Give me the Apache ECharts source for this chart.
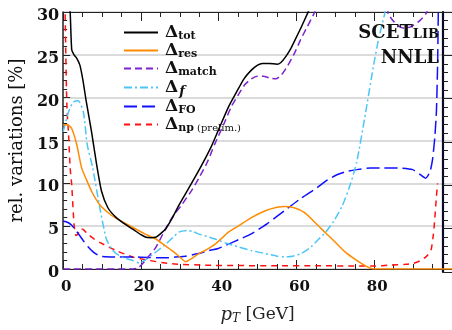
<!DOCTYPE html>
<html>
<head>
<meta charset="utf-8">
<script src="https://cdn.jsdelivr.net/npm/echarts@6/dist/echarts.min.js"></script>
<style>
  html, body { margin: 0; padding: 0; background: #fff; }
  #chart { width: 452px; height: 330px; }
</style>
</head>
<body>
<div id="chart"></div>
<script>
// pT [GeV] vs relative variation [%]
const deltaTot = [[1.4, 32], [1.8, 30], [2.2, 25.6], [2.8, 25.0], [3.5, 24.6], [4.3, 23.8], [5.1, 22.0], [5.85, 19.8],
  [7.3, 16.0], [8.6, 12.2], [9.85, 9.1], [11.5, 7.15], [13.65, 6.0], [16, 5.2], [17.9, 4.65], [20, 4.0], [21.3, 3.7],
  [22.5, 3.65], [23.8, 3.7], [25, 4.1], [26.4, 4.7], [28, 5.9], [29.7, 7.4], [32, 9.2], [35, 11.6], [38, 14.2],
  [40, 16.3], [42.5, 18.9], [44.4, 20.5], [46.5, 22.2], [48.6, 23.3], [50, 23.8], [51.2, 24.0], [53, 24.0],
  [55, 23.9], [56, 24.1], [57.1, 24.7], [58.5, 25.7], [59.7, 26.8], [61.3, 28.3], [62.9, 29.9], [64, 31]];

const deltaRes = [[0, 16.8], [1, 16.85], [2.2, 16.4], [3.5, 14.5], [4.75, 11.8], [6, 10.4], [7.5, 8.9], [9.4, 7.5],
  [11.5, 6.6], [13.65, 5.9], [17.9, 4.85], [21, 4.1], [23.8, 3.5], [26, 2.8], [28, 2.15], [30, 1.4], [31.5, 0.85],
  [33, 1.2], [34.8, 1.77], [37, 2.3], [39.1, 2.9], [42.5, 4.3], [45, 5.0], [48.4, 6.0], [52, 6.8], [55, 7.2],
  [57, 7.3], [59.4, 7.15], [62, 6.6], [65.3, 5.2], [67.5, 4.2], [69.6, 3.3], [72.5, 2.0], [75.5, 1.0], [78, 0.3],
  [79.8, 0], [100, 0]];

const deltaMatch = [[0, 0], [18, 0], [19.2, 0.1], [20.4, 0.6], [22, 1.5], [23.8, 2.5], [26, 4.4], [28, 6.0],
  [30.5, 7.5], [33.1, 9.2], [35, 10.7], [37, 12.4], [39, 14.6], [41.2, 16.8], [43.3, 19.0], [45, 20.3],
  [46.7, 21.5], [48.4, 22.2], [50, 22.5], [51.5, 22.5], [53, 22.3], [54.7, 22.2], [56.2, 22.7], [57.7, 23.7],
  [59.5, 25.2], [61.1, 26.8], [62.8, 28.3], [64.5, 29.8], [66, 31.2], [83, 31.2], [83.6, 29.8], [85, 28.9],
  [86.5, 28.3], [87.8, 28.1], [89.5, 28.3], [91.5, 28.9], [93.3, 29.8], [94.5, 31]];

const deltaF = [[0, 16.0], [1.35, 18.3], [2.6, 19.5], [3.9, 19.65], [5.2, 18.3], [6.2, 14.5], [7.6, 11.8],
  [9.4, 7.2], [11.1, 3.5], [12.5, 2.3], [13.65, 1.8], [15.5, 1.3], [17.9, 1.0], [19.6, 0.7], [21, 1.0],
  [22.1, 1.4], [24.2, 2.1], [26.4, 2.9], [28.5, 3.8], [29.7, 4.3], [31.9, 4.5], [33.5, 4.35], [34.8, 4.1],
  [37, 3.8], [39.1, 3.5], [42, 3.0], [45, 2.6], [48.4, 2.15], [52, 1.8], [55, 1.5], [56.9, 1.4], [59, 1.5],
  [61.1, 1.77], [63.3, 2.4], [65.3, 3.3], [67.5, 4.3], [69.6, 5.6], [71.8, 7.4], [73.8, 9.8], [75.5, 12.5],
  [77.5, 17.5], [79.8, 23.7], [81.2, 27], [82.7, 29.8], [83.5, 31.5]];

const deltaFO = [[0, 5.6], [1.35, 5.4], [2.2, 5.1], [3.05, 4.65], [4.1, 4.0], [5.2, 3.3], [6.4, 2.6], [7.7, 2.0],
  [9, 1.6], [10.2, 1.46], [14, 1.4], [17.9, 1.4], [22, 1.35], [26.4, 1.3], [28.9, 1.4], [31.5, 1.5], [34.8, 1.8],
  [37, 2.1], [39.9, 2.4], [42.5, 2.9], [45.5, 3.5], [48.4, 4.1], [52.5, 5.3], [56.9, 6.8], [61, 8.2], [65.3, 9.5],
  [68, 10.4], [70.4, 11.0], [73, 11.4], [75.5, 11.6], [79, 11.8], [82.3, 11.8], [86, 11.8], [89.9, 11.6],
  [91.6, 11.1], [93.2, 10.6], [94.3, 11.3], [95, 12.8], [95.6, 15.5], [96.0, 18.5], [96.3, 24], [96.5, 31]];

const deltaNp = [[0.45, 31], [0.5, 30], [0.8, 22], [1.0, 18.5], [1.35, 16.0], [1.8, 11.8], [2.2, 9.8], [2.8, 5.2],
  [3.3, 3.9], [3.8, 4.1], [4.5, 4.7], [5.2, 4.6], [6.5, 4.0], [8, 3.5], [9.4, 3.1], [13.65, 2.15], [17.9, 1.4],
  [22.1, 1.0], [28, 0.6], [39.1, 0.42], [45, 0.4], [55, 0.38], [65, 0.38], [75, 0.35], [80, 0.35], [84, 0.45],
  [88, 0.55], [90, 0.65], [92, 1.0], [93.5, 1.5], [94.6, 2.2], [95.2, 4], [95.6, 6], [96.0, 8.5], [96.3, 10]];

const seriesNames = ['tot', 'res', 'match', 'f', 'FO', 'np'];
const seriesData = [deltaTot, deltaRes, deltaMatch, deltaF, deltaFO, deltaNp];
const seriesColors = ['#000000', '#ff8c00', '#7e22ce', '#4cc6f5', '#1010ff', '#ff1010'];
const seriesDash = ['solid', 'solid', [7, 4], [8, 3, 2, 3], [13, 5], [6, 5]];

const legendText = {
    tot: '{d|Δ}{s|tot}',
    res: '{d|Δ}{s|res}',
    match: '{d|Δ}{s|match}',
    f: '{d|Δ}{i|f}',
    FO: '{d|Δ}{s|FO}',
    np: '{d|Δ}{s|np}{p| (prelim.)}'
};

const serif = 'DejaVu Serif';
const axisColor = '#222';

const chart = echarts.init(document.getElementById('chart'));

const option = {
    animation: false,
    grid: [
        { left: 63, top: 12, width: 393.3, height: 260 },
        { left: 443, top: 12, width: 40, height: 260 }
    ],
    xAxis: [
        {
            type: 'value', gridIndex: 0, position: 'bottom', min: 0, max: 100, interval: 20,
            name: '{p|p}{t|T}{g| [GeV]}', nameLocation: 'middle', nameGap: 36,
            nameTextStyle: {
                rich: {
                    p: { fontFamily: serif, fontStyle: 'italic', fontSize: 18, lineHeight: 20 },
                    t: { fontFamily: serif, fontStyle: 'italic', fontSize: 12, lineHeight: 20, padding: [8, 0, 0, 0] },
                    g: { fontFamily: serif, fontSize: 17, lineHeight: 20 }
                }
            },
            axisLine: { lineStyle: { color: axisColor, width: 1.2 } },
            axisTick: { inside: true, length: 9, lineStyle: { color: axisColor } },
            minorTick: { show: true, splitNumber: 4, length: 5, lineStyle: { color: axisColor } },
            axisLabel: { fontFamily: serif, fontWeight: 'bold', fontSize: 15, color: '#111', margin: 11, padding: [0, 0, 0, 6],
                showMaxLabel: false },
            splitLine: { show: false }
        },
        {
            type: 'value', gridIndex: 0, position: 'top', min: 0, max: 100, interval: 20,
            axisLine: { lineStyle: { color: axisColor, width: 1.2 } },
            axisTick: { inside: true, length: 9, lineStyle: { color: axisColor } },
            minorTick: { show: true, splitNumber: 4, length: 5, lineStyle: { color: axisColor } },
            axisLabel: { show: false },
            splitLine: { show: false }
        },
        { type: 'value', gridIndex: 1, min: 0, max: 10, show: false }
    ],
    yAxis: [
        {
            type: 'value', gridIndex: 0, min: 0, max: 30, interval: 5,
            name: 'rel. variations [%]', nameLocation: 'middle', nameGap: 36,
            nameTextStyle: { fontFamily: serif, fontSize: 18, color: '#111' },
            axisLine: { show: true, lineStyle: { color: axisColor, width: 1.5 } },
            axisTick: { inside: true, length: 7, lineStyle: { color: axisColor } },
            minorTick: { show: true, splitNumber: 5, length: 4, lineStyle: { color: axisColor } },
            axisLabel: { fontFamily: serif, fontWeight: 'bold', fontSize: 16, color: '#111', margin: 4,
                verticalAlign: 'top', lineHeight: 8 },
            splitLine: { show: true, lineStyle: { color: '#cfcfcf', width: 1.5 } }
        },
        {
            type: 'value', gridIndex: 1, min: 0, max: 30, interval: 5,
            axisLine: { show: true, lineStyle: { color: '#0a0a28', width: 2.2 } },
            axisTick: { inside: true, length: 9, lineStyle: { color: axisColor } },
            minorTick: { show: true, splitNumber: 5, length: 5, lineStyle: { color: axisColor } },
            axisLabel: { show: false },
            splitLine: { show: false }
        }
    ],
    legend: {
        orient: 'vertical', left: 123, top: 23, padding: 0, itemGap: -1,
        itemWidth: 34, itemHeight: 14,
        data: seriesNames,
        formatter: name => legendText[name],
        itemStyle: { opacity: 0 },
        textStyle: {
            color: '#111',
            rich: {
                d: { fontFamily: serif, fontWeight: 'bold', fontSize: 17, lineHeight: 18, padding: [0, 0, 0, 2] },
                s: { fontFamily: serif, fontWeight: 'bold', fontSize: 11, lineHeight: 18, padding: [8, 0, 0, 0] },
                i: { fontFamily: serif, fontStyle: 'italic', fontWeight: 'bold', fontSize: 13, lineHeight: 18, padding: [8, 0, 0, 1] },
                p: { fontFamily: serif, fontSize: 10, lineHeight: 18, padding: [8, 0, 0, 0] }
            }
        }
    },
    graphic: [
        {
            type: 'text', z: 100,
            style: {
                x: 439, y: 33, align: 'right', verticalAlign: 'middle', fill: '#111',
                text: '{a|SCET}{b|LIB}',
                rich: {
                    a: { fontFamily: serif, fontWeight: 'bold', fontSize: 18 },
                    b: { fontFamily: serif, fontWeight: 'bold', fontSize: 13, padding: [3, 0, 0, 0] }
                }
            }
        },
        {
            type: 'text', z: 100,
            style: {
                x: 439, y: 58, align: 'right', verticalAlign: 'middle', fill: '#111',
                text: 'NNLL', fontFamily: serif, fontWeight: 'bold', fontSize: 18
            }
        }
    ],
    series: seriesNames.map((name, i) => ({
        name: name,
        type: 'line',
        xAxisIndex: 0,
        yAxisIndex: 0,
        data: seriesData[i],
        symbol: 'none',
        smooth: 0.2,
        clip: true,
        color: seriesColors[i],
        lineStyle: { color: seriesColors[i], width: 1.5, type: seriesDash[i] },
        z: 10 - i
    }))
};

chart.setOption(option);
</script>
</body>
</html>
